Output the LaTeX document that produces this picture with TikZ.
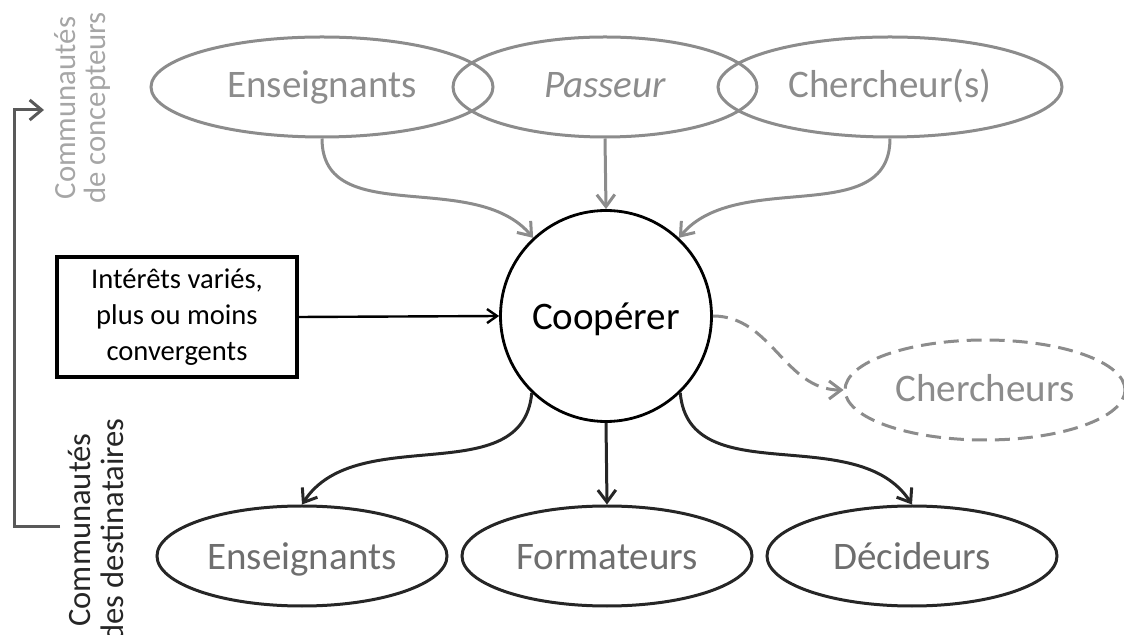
\documentclass[tikz,border=0pt]{standalone}
\usepackage{fontspec}
\setmainfont{Carlito}
\usetikzlibrary{shapes.geometric,arrows.meta}
\definecolor{topgray}{HTML}{8C8C8C}
\definecolor{palegray}{HTML}{A6A6A6}
\definecolor{darkline}{HTML}{262626}
\definecolor{midgray}{HTML}{6E6E6E}
\definecolor{brkgray}{HTML}{595959}

\begin{document}
\begin{tikzpicture}[x=0.5pt,y=0.5pt,
    every node/.style={inner sep=0pt, font=\fontsize{19.5}{23}\selectfont},
    concep/.style={draw=topgray, line width=1.5pt, shape=ellipse, text=topgray, minimum height=50pt, text height=14pt, text depth=3pt},
    destin/.style={draw=darkline, line width=1.5pt, shape=ellipse, text=midgray, minimum width=145pt, minimum height=50pt, text height=16pt, text depth=2pt},
    toparrow/.style={draw=topgray, line width=1.5pt, -{Straight Barb[length=6pt,width=9pt]}},
    botarrow/.style={draw=darkline, line width=1.5pt, -{Straight Barb[length=6pt,width=9pt]}}]
    \useasboundingbox (0,0) rectangle (1124,-635);
    \draw (322,-87) node[concep, minimum width=171pt] (ens1) {Enseignants};
    \draw (605,-87) node[concep, minimum width=152pt, font=\fontsize{19.5}{23}\selectfont\itshape] (pass) {Passeur};
    \draw (890,-87) node[concep, minimum width=172pt] (cher) {Chercheur(s)};
    \draw (606,-316) node[draw, circle, line width=1.4pt, minimum size=105.5pt, text height=16pt, text depth=2pt] (coop) {Coopérer};
    \draw (177,-317) node[draw, line width=1.6pt, minimum width=120pt, minimum height=60pt, align=center, font=\fontsize{14.3}{18}\selectfont] (box) {Intérêts variés,\\plus ou moins\\convergents};
    \draw (985,-390) node[concep, minimum width=140pt, text height=15pt, text depth=3pt, dash pattern=on 7.5pt off 4pt] (chs) {Chercheurs};
    \draw (302,-556) node[destin] (ens2) {Enseignants};
    \draw (607,-556) node[destin] (form) {Formateurs};
    \draw (912,-556) node[destin] (dec) {Décideurs};
    \draw (82,-108) node[rotate=90, align=center, text=palegray, font=\fontsize{15.4}{15}\selectfont] (concepteurs) {Communautés\\de concepteurs};
    \draw (96,-530) node[rotate=90, align=center, text=darkline, font=\fontsize{16.3}{16.5}\selectfont] (destinataires) {Communautés\\des destinataires};
    \draw[toparrow] (ens1.south) to[out=-90,in=130] (coop.133);
    \draw[toparrow] (pass.south) -- (coop.north);
    \draw[toparrow] (cher.south) to[out=-90,in=50] (coop.47);
    \draw[black, line width=1.2pt, -{Straight Barb[length=5pt,width=7pt]}] (box.east) -- (coop.west);
    \draw[toparrow, dash pattern=on 7.5pt off 4pt] (coop.east) to[out=0,in=180] (chs.west);
    \draw[botarrow] (coop.-134) to[out=-95,in=57] (ens2.north);
    \draw[botarrow] (coop.south) -- (form.north);
    \draw[botarrow] (coop.-46) to[out=-85,in=123] (dec.north);
    \coordinate (brkbot) at (60,-527);
    \coordinate (brktop) at (44,-110);
    \draw[brkgray, line width=1.5pt, -{Straight Barb[length=6pt,width=10pt]}] (brkbot) -- ++(-46,0) |- (brktop);
\end{tikzpicture}
\end{document}
